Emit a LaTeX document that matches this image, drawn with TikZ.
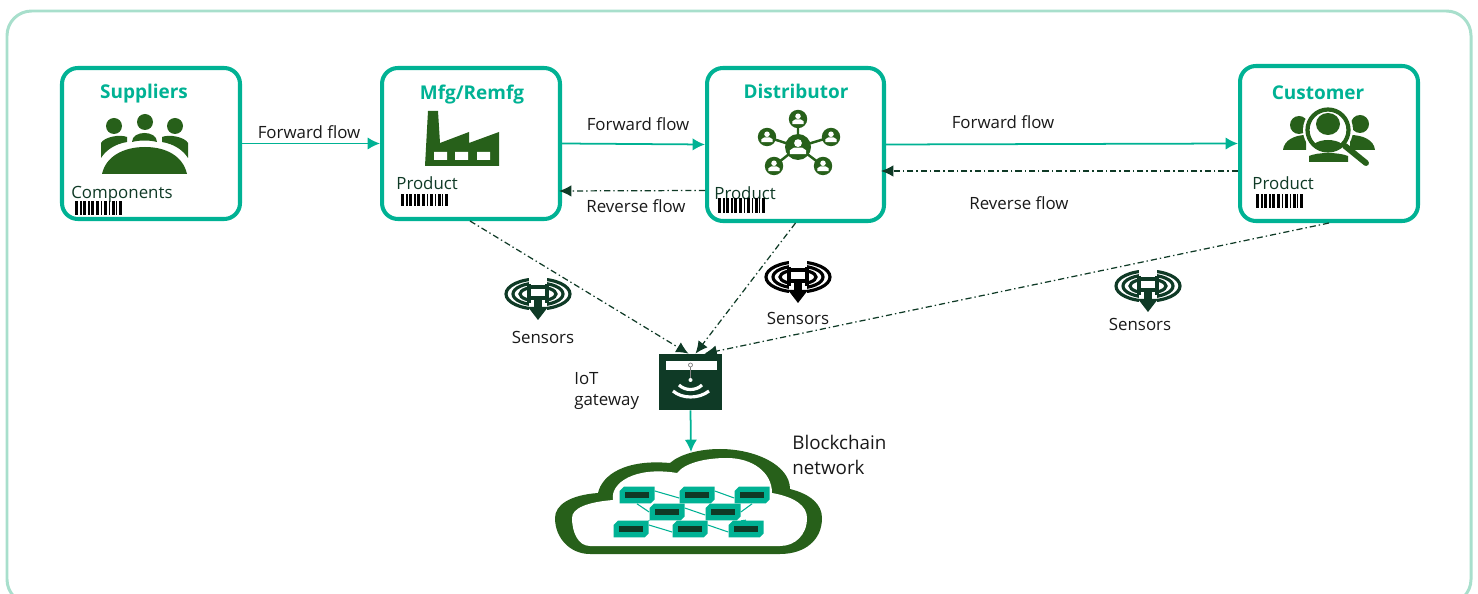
\documentclass[tikz,border=0pt]{standalone}
\usepackage{fontspec}
\setmainfont{Open Sans}
\usetikzlibrary{arrows.meta}

\definecolor{tealline}{RGB}{0,178,148}
\definecolor{framegreen}{RGB}{168,223,204}
\definecolor{icongreen}{RGB}{39,96,26}
\definecolor{darkgreen}{RGB}{15,58,38}

\tikzset{
  stagebox/.style={draw=tealline, line width=2.3pt, rounded corners=9pt, fill=white, inner sep=0pt},
  stagetitle/.style={text=tealline, font=\fontsize{10.8}{12}\selectfont\bfseries, inner sep=0pt},
  flowlabel/.style={text=black!90, font=\fontsize{9.6}{12.5}\selectfont, inner sep=0pt},
  itemlabel/.style={text=darkgreen, font=\fontsize{9.6}{11}\selectfont, inner sep=0pt, anchor=west},
  forwardarrow/.style={draw=tealline, line width=1pt, -{Latex[length=7pt,width=7pt]}},
  reversearrow/.style={draw=darkgreen, line width=.7pt, dash pattern=on 3.5pt off 1.7pt on .8pt off 1.7pt, -{Latex[length=7pt,width=6.5pt]}},
  chiplink/.style={draw=tealline, line width=.6pt},
  chip/.style={rectangle, minimum width=.7cm, minimum height=.34cm, inner sep=0pt,
    path picture={
      \fill[tealline] ([xshift=-.26cm,yshift=.17cm]path picture bounding box.center) -- ([xshift=.35cm,yshift=.17cm]path picture bounding box.center)
        -- ([xshift=.35cm,yshift=-.09cm]path picture bounding box.center) -- ([xshift=.27cm,yshift=-.17cm]path picture bounding box.center)
        -- ([xshift=-.35cm,yshift=-.17cm]path picture bounding box.center) -- ([xshift=-.35cm,yshift=.08cm]path picture bounding box.center) -- cycle;
      \fill[darkgreen] ([xshift=-.24cm,yshift=-.055cm]path picture bounding box.center) rectangle ([xshift=.24cm,yshift=.055cm]path picture bounding box.center);}},
  pics/barcode/.style={code={
    \foreach \bx/\bw in {0/3,5/2,8/3,13/2,16/3,21/3,26/1,29/3,34/1,37/3,41/1,44/3}
      \fill[black] (\bx,0) rectangle ++(\bw,#1);
  }},
  pics/sensor/.style={code={
    \foreach \rx/\ry in {32/15,25/11,18/7}
      \draw[#1, line width=1.8pt] (0,0) ellipse ({\rx} and {\ry});
    \fill[white] (-9,-17) rectangle (9,17);
    \draw[#1, line width=1.8pt] (-9,-10) -- (-9,9) (9,-10) -- (9,9) (-9,-7) -- (9,-7) (-9,4) -- (9,4);
    \fill[#1] (-4,5) rectangle (4,15);
    \fill[#1] (-10,13) -- (10,13) -- (0,26) -- cycle;
  }},
  pics/netuser/.style={code={
    \fill[icongreen] (0,0) circle (#1);
    \fill[white] (0,-.3*#1) circle (.3*#1);
    \fill[white] (-.62*#1,.55*#1) -- (-.62*#1,.25*#1) -- (-.3*#1,.04*#1) -- (.3*#1,.04*#1) -- (.62*#1,.25*#1) -- (.62*#1,.55*#1) -- cycle;
  }},
}

\begin{document}
\begin{tikzpicture}[x=0.02cm,y=-0.02cm]
  \useasboundingbox (0,0) rectangle (1478,594);

  % Outer frame
  \begin{scope}
    \clip (0,0) rectangle (1478,594);
    \draw[framegreen, line width=1.7pt, rounded corners=14pt] (7,11) rectangle (1471,604);
  \end{scope}

  % Nodes for the stages
  \node[stagebox, minimum width=3.56cm, minimum height=3.02cm] (Suppliers) at (151,143.5) {};
  \node[stagebox, minimum width=3.56cm, minimum height=3.02cm] (Mfg) at (471,143.5) {};
  \node[stagebox, minimum width=3.54cm, minimum height=3.06cm] (Distributor) at (795.5,144.5) {};
  \node[stagebox, minimum width=3.56cm, minimum height=3.10cm] (Customer) at (1329,143.5) {};

  % Stage titles
  \node[stagetitle] (SuppliersTitle) at (144,94) {Suppliers};
  \node[stagetitle] (MfgTitle) at (472,95) {Mfg/Remfg};
  \node[stagetitle] (DistributorTitle) at (796,91) {Distributor};
  \node[stagetitle] (CustomerTitle) at (1318,93) {Customer};

  % Supplier icon
  \fill[icongreen] (114,126) circle (8) (145,122) circle (8) (175,126) circle (8);
  \fill[icongreen] (102,174) .. controls (106,156) and (124,147) .. (145,147) .. controls (166,147) and (183,156) .. (187,174) -- cycle;
  \fill[icongreen] (101,158) -- (101,143) .. controls (104,137) and (120,134) .. (127,137) -- (127,142) .. controls (115,144) and (106,150) .. cycle;
  \fill[icongreen] (188,158) -- (188,143) .. controls (185,137) and (169,134) .. (162,137) -- (162,142) .. controls (174,144) and (183,150) .. cycle;
  \fill[icongreen] (132,142) .. controls (132,130) and (157,130) .. (157,142) .. controls (150,140) and (139,140) .. cycle;

  % Factory icon
  \fill[icongreen] (428,111) -- (438,111) -- (440,143) -- (469,132) -- (469,143) -- (499,132) -- (499,166) -- (425,166) -- cycle;
  \fill[white] (434,152) rectangle (447,160) (455,152) rectangle (468,160) (477,152) rectangle (490,160);

  % Network icon
  \draw[icongreen, line width=1.4pt] (798,147) -- (798,119) (798,147) -- (767,137) (798,147) -- (831,137) (798,147) -- (774,166) (798,147) -- (823,166);
  \pic at (798,119) {netuser=9.2};
  \pic at (767,137) {netuser=9.2};
  \pic at (831,137) {netuser=9.2};
  \pic at (774,166) {netuser=9.2};
  \pic at (823,166) {netuser=9.2};
  \pic at (798,147) {netuser=13};

  % Customer icon
  \fill[icongreen] (1299,125) ellipse (9 and 9) (1360,124) ellipse (9 and 9);
  \fill[icongreen] (1283,150) .. controls (1284,140) and (1295,135) .. (1306,135) -- (1306,150) -- cycle;
  \fill[icongreen] (1375,150) .. controls (1374,140) and (1363,135) .. (1350,135) -- (1350,150) -- cycle;
  \fill[white] (1328,130) circle (25);
  \fill[icongreen] (1309,162) -- (1309,156) .. controls (1318,152) and (1338,152) .. (1348,156) -- (1348,162) -- cycle;
  \begin{scope}
    \clip (1328,130) circle (20);
    \fill[icongreen] (1328,152) ellipse (19 and 12);
  \end{scope}
  \draw[icongreen, line width=2.4pt] (1328,130) circle (20.5);
  \fill[icongreen] (1328,124) ellipse (12 and 11);
  \draw[icongreen, line width=3.4pt, line cap=round] (1345,146) -- (1366,163);

  % Item labels and barcodes
  \node[itemlabel] (Components) at (71,194) {Components};
  \node[itemlabel] (ProductMfg) at (396,183.5) {Product};
  \node[itemlabel] (ProductDist) at (714,193.5) {Product};
  \node[itemlabel] (ProductCust) at (1252,183.5) {Product};
  \pic at (75,201) {barcode=14};
  \pic at (401,194) {barcode=12};
  \pic at (718,198) {barcode=15};
  \pic at (1256,194) {barcode=14};

  % Gateway, sensors and cloud
  \node[fill=darkgreen, minimum width=1.26cm, minimum height=1.12cm, inner sep=0pt] (Gateway) at (690.5,382) {};
  \fill[white] (666,361) rectangle (717,370);
  \draw[gray, line width=.4pt] (690.5,365) circle (2) (690.5,367) -- (690.5,378);
  \fill[white] (690.5,380) circle (2);
  \draw[white, line width=1.8pt] (679,385) .. controls (685,391) and (696,391) .. (702,385);
  \draw[white, line width=1.8pt] (673,391) .. controls (682,399) and (699,399) .. (709,391);

  \pic at (538,294) {sensor=darkgreen};
  \pic at (798,277) {sensor=black};
  \pic at (1148,286) {sensor=darkgreen};
  \node[flowlabel] (SensorsA) at (543,337) {Sensors};
  \node[flowlabel] (SensorsB) at (798,318) {Sensors};
  \node[flowlabel] (SensorsC) at (1140,324) {Sensors};
  \node[flowlabel, align=left, anchor=west] (GatewayLabel) at (574,391) {IoT\\gateway};
  \node[flowlabel, align=left, anchor=west, font=\fontsize{10.7}{14.5}\selectfont] (CloudLabel) at (792,455) {Blockchain\\network};

  % Cloud outline
  \fill[icongreen] (598,493) .. controls (602,475) and (625,459) .. (670,463) .. controls (680,454) and (700,449) .. (720,449) .. controls (755,449) and (790,465) .. (790,489) .. controls (810,494) and (822,504) .. (822,518) .. controls (822,540) and (805,554) .. (780,554) -- (590,554) .. controls (570,554) and (555,538) .. (555,518) .. controls (555,505) and (570,495) .. (598,493) -- cycle;
  \fill[white] (613,500) .. controls (610,483) and (635,466) .. (677,473) .. controls (685,463) and (705,458) .. (727,458) .. controls (752,458) and (772,472) .. (772,493) .. controls (795,497) and (807,506) .. (807,518) .. controls (807,535) and (795,546) .. (780,546) -- (590,546) .. controls (578,546) and (572,532) .. (572,518) .. controls (572,508) and (588,502) .. (613,500) -- cycle;
  \coordinate (CloudTop) at (691,452);

  % Chips in the cloud
  \node[chip] (C1) at (637,495) {};
  \node[chip] (C2) at (697,495) {};
  \node[chip] (C3) at (752,495) {};
  \node[chip] (C4) at (667,512) {};
  \node[chip] (C5) at (723,512) {};
  \node[chip] (C6) at (631,529) {};
  \node[chip] (C7) at (690,529) {};
  \node[chip] (C8) at (746,529) {};
  \draw[chiplink] ([yshift=.08cm]C1.east) -- ([yshift=-.06cm]C2.west);
  \draw[chiplink] ([yshift=.08cm]C2.east) -- ([yshift=-.06cm]C3.west);
  \draw[chiplink] ([yshift=.08cm]C4.east) -- ([yshift=-.06cm]C5.west);
  \draw[chiplink] ([yshift=.08cm]C6.east) -- ([yshift=-.06cm]C7.west);
  \draw[chiplink] ([yshift=.08cm]C7.east) -- ([yshift=-.06cm]C8.west);
  \draw[chiplink] (C1.south) -- (C4.west);
  \draw[chiplink] (C6.north east) -- (C4.south west);
  \draw[chiplink] (C3.south) -- (C5.east);
  \draw[chiplink] (C8.north) -- (C5.south east);

  % Edges
  \draw[forwardarrow] (Suppliers) -- (Mfg);
  \draw[forwardarrow] (Mfg.east) -- (Distributor.west);
  \draw[forwardarrow] (Distributor.east) -- (Customer.west);
  \draw[forwardarrow] (Gateway.south) -- (CloudTop);
  \draw[reversearrow] ([yshift=-.92cm]Distributor.west) -- ([xshift=-.06cm,yshift=-.95cm]Mfg.east);
  \draw[reversearrow] ([yshift=-.55cm]Customer.west) -- ([xshift=-.1cm,yshift=-.53cm]Distributor.east);
  \draw[reversearrow] ([xshift=-.02cm]Mfg.south) -- ([xshift=-.04cm]Gateway.north);
  \draw[reversearrow] (Distributor.south) -- ([xshift=.1cm]Gateway.north);
  \draw[reversearrow] (Customer.south) -- ([xshift=.28cm]Gateway.north);

  % Flow labels
  \node[flowlabel] (ForwardA) at (309,132) {Forward flow};
  \node[flowlabel] (ForwardB) at (638,124) {Forward flow};
  \node[flowlabel] (ForwardC) at (1003,122) {Forward flow};
  \node[flowlabel] (ReverseA) at (636,206) {Reverse flow};
  \node[flowlabel] (ReverseB) at (1019,203) {Reverse flow};
\end{tikzpicture}
\end{document}
